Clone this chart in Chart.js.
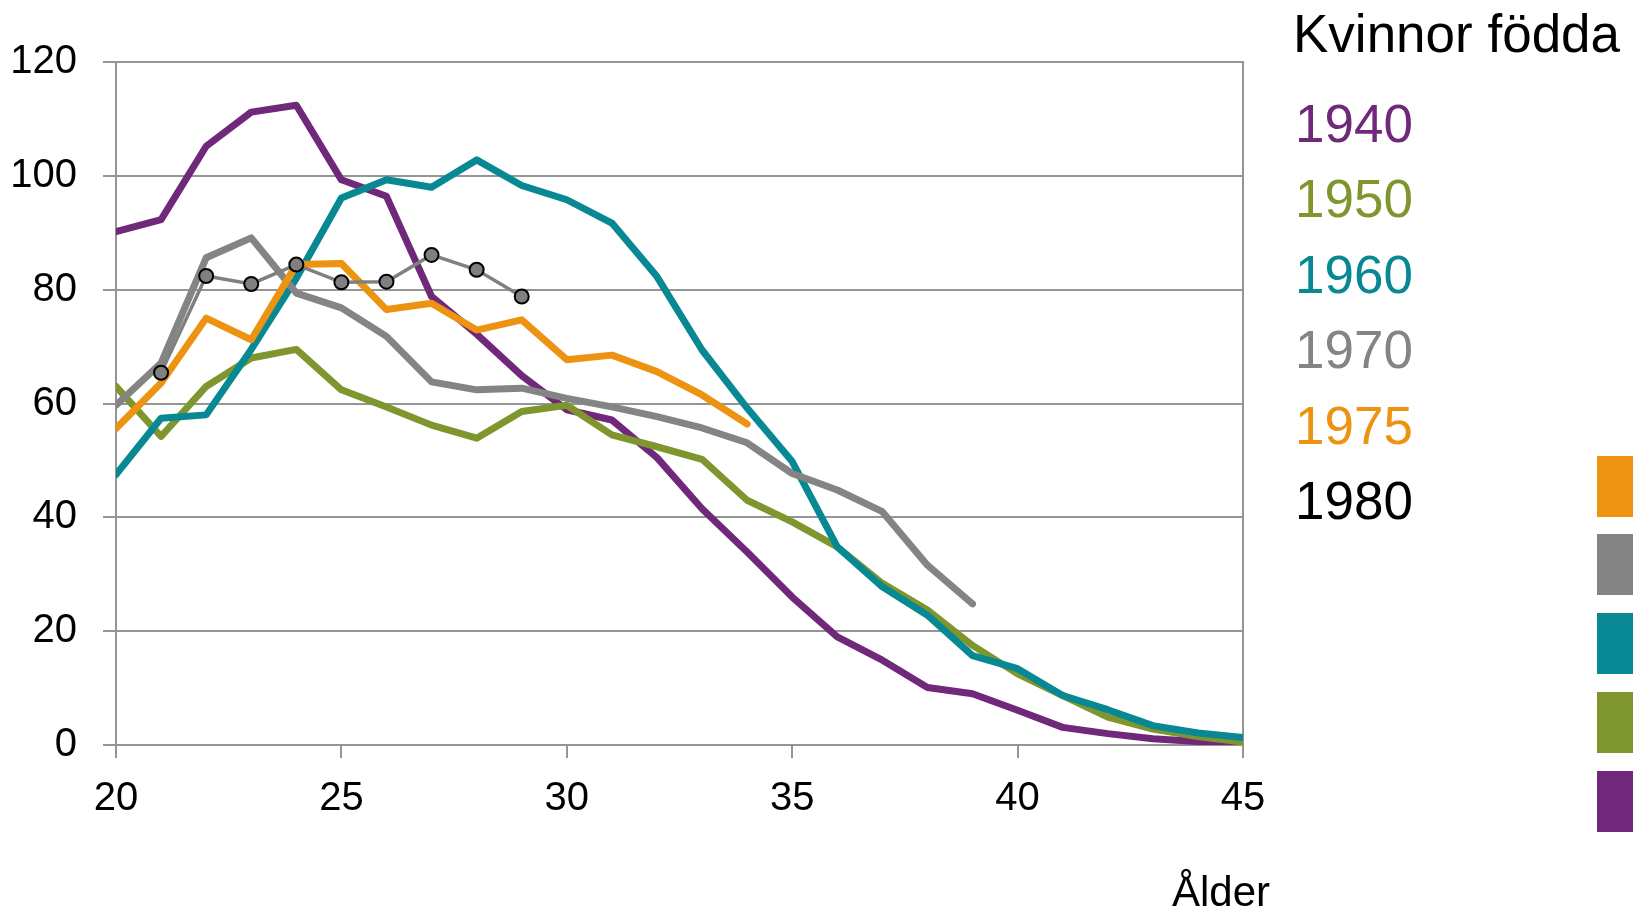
<!DOCTYPE html>
<html>
<head>
<meta charset="utf-8">
<script src="https://cdn.jsdelivr.net/npm/chart.js@4/dist/chart.umd.min.js"></script>
<style>
    body { margin: 0; background: white; }
    #wrap { position: relative; width: 1633px; height: 910px; overflow: hidden; font-family: 'Liberation Sans', Arial, sans-serif; }
    .lbl { position: absolute; font-size: 53px; line-height: 53px; white-space: nowrap; }
    .sq { position: absolute; left: 1597px; width: 61px; height: 61px; }
</style>
</head>
<body>
<div id="wrap">
    <canvas id="fertility" width="1633" height="910"></canvas>

    <div class="lbl" style="left:1293px; top:7px; color:#000;">Kvinnor födda</div>
    <div class="lbl" style="left:1295px; top:97px; color:#70287a;">1940</div>
    <div class="lbl" style="left:1295px; top:172px; color:#7f962f;">1950</div>
    <div class="lbl" style="left:1295px; top:248px; color:#088893;">1960</div>
    <div class="lbl" style="left:1295px; top:323px; color:#848484;">1970</div>
    <div class="lbl" style="left:1295px; top:399px; color:#ec9312;">1975</div>
    <div class="lbl" style="left:1295px; top:474px; color:#000;">1980</div>

    <div class="lbl" style="left:1172px; top:871px; font-size:42px; line-height:42px;">Ålder</div>

    <div class="sq" style="top:456px; background:#ec9312;"></div>
    <div class="sq" style="top:534px; background:#848484;"></div>
    <div class="sq" style="top:613px; background:#088893;"></div>
    <div class="sq" style="top:692px; background:#7f962f;"></div>
    <div class="sq" style="top:771px; background:#70287a;"></div>
</div>

<script>
/*
    Births per 1000 women by age, cohorts 1940-1980
*/

Chart.defaults.font.family = "'Liberation Sans', Arial, sans-serif";
Chart.defaults.color = 'black';


// DATA

var ages = [20, 21, 22, 23, 24, 25, 26, 27, 28, 29, 30, 31, 32,
            33, 34, 35, 36, 37, 38, 39, 40, 41, 42, 43, 44, 45];

var y1940 = [90.2, 92.3, 105.2, 111.2, 112.4, 99.3, 96.4, 78.8, 72.2, 64.9, 58.9, 57.1, 50.5,
             41.5, 33.9, 26.0, 19.0, 14.9, 10.1, 9.0, 6.1, 3.1, 2.0, 1.1, 0.6, 0.0];
var y1950 = [63.0, 54.2, 63.0, 68.0, 69.5, 62.4, 59.4, 56.2, 53.9, 58.6, 59.7, 54.5, 52.4,
             50.2, 43.0, 39.2, 34.8, 28.4, 23.7, 17.5, 12.5, 8.7, 4.9, 2.8, 1.5, 0.5];
var y1960 = [47.5, 57.4, 58.0, 69.5, 82.0, 96.1, 99.3, 98.0, 102.8, 98.3, 95.8, 91.7, 82.3,
             69.4, 59.2, 49.8, 34.8, 27.8, 22.8, 15.7, 13.4, 8.7, 6.2, 3.4, 2.1, 1.3];
var y1970 = [59.7, 67.1, 85.6, 89.1, 79.4, 76.8, 71.8, 63.8, 62.4, 62.7, 60.9, 59.4, 57.7,
             55.7, 53.1, 47.7, 44.8, 41.0, 31.6, 24.8, null, null, null, null, null, null];
var y1975 = [55.6, 63.6, 75.0, 71.2, 84.4, 84.6, 76.5, 77.6, 72.9, 74.7, 67.7, 68.5, 65.6,
             61.5, 56.4, null, null, null, null, null, null, null, null, null, null, null];
var y1980 = [null, 65.4, 82.4, 81.0, 84.4, 81.3, 81.4, 86.1, 83.5, 78.8, null, null, null,
             null, null, null, null, null, null, null, null, null, null, null, null, null];

var yTicks = [0, 20, 40, 60, 80, 100, 120];
var xTicks = [20, 25, 30, 35, 40, 45];


function points(values) {
    var out = [];
    for (var i = 0; i < ages.length; i++) {
        if (values[i] !== null) out.push({x: ages[i], y: values[i]});
    }
    return out;
}

function thick(label, values, color, order) {
    return {
        label: label,
        data: points(values),
        borderColor: color,
        borderWidth: 7,
        borderCapStyle: 'round',
        borderJoinStyle: 'round',
        pointRadius: 0,
        order: order,
    };
}

var GRID = '#959595';


var ctx = document.getElementById('fertility').getContext('2d');

var chart = new Chart(ctx, {
    type: 'line',

    data: {
        datasets: [
            thick('1940', y1940, '#70287a', 6),
            thick('1950', y1950, '#7f962f', 5),
            thick('1960', y1960, '#088893', 4),
            thick('1970', y1970, '#848484', 3),
            thick('1975', y1975, '#ec9312', 2),
            {
                label: '1980',
                data: points(y1980),
                borderColor: '#808080',
                borderWidth: 3.5,
                pointRadius: 7,
                pointBackgroundColor: '#808080',
                pointBorderColor: '#000000',
                pointBorderWidth: 2,
                order: 1,
            },
        ],
    },

    options: {
        responsive: false,
        animation: false,
        devicePixelRatio: 1,
        layout: {padding: {left: 0, right: 390, top: 62, bottom: 45}},

        scales: {
            x: {
                type: 'linear',
                min: 20,
                max: 45,
                afterBuildTicks: function(s) { s.ticks = xTicks.map(v => ({value: v})); },
                afterFit: function(s) { s.height = 120; },
                grid: {drawOnChartArea: false, color: GRID, lineWidth: 2, tickLength: 13},
                border: {color: GRID, width: 2},
                ticks: {font: {size: 40}, padding: 17, maxRotation: 0},
            },
            y: {
                min: 0,
                max: 120,
                afterBuildTicks: function(s) { s.ticks = yTicks.map(v => ({value: v})); },
                afterFit: function(s) { s.width = 116; },
                grid: {color: GRID, lineWidth: 2, tickLength: 13},
                border: {color: GRID, width: 2},
                ticks: {font: {size: 40}, padding: 26},
            },
            y2: {
                position: 'right',
                min: 0,
                max: 120,
                afterFit: function(s) { s.width = 0; },
                grid: {display: false},
                border: {display: true, color: GRID, width: 2},
                ticks: {display: false},
            },
        },

        plugins: {
            legend: {display: false},
            tooltip: {enabled: false},
        },
    },
});
</script>
</body>
</html>
